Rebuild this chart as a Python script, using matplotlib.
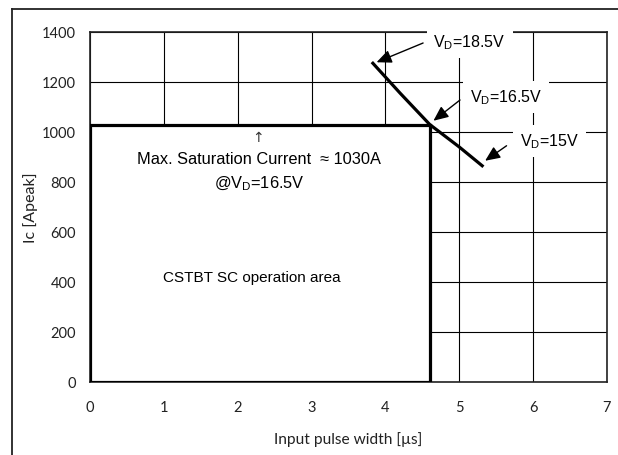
import matplotlib
matplotlib.use("Agg")
import matplotlib.pyplot as plt
from matplotlib.lines import Line2D

# Data
x_ticks = [0, 1, 2, 3, 4, 5, 6, 7]
y_ticks = [0, 200, 400, 600, 800, 1000, 1200, 1400]
sc_area_x = [0, 0, 4.6, 4.6, 0]
sc_area_y = [0, 1030, 1030, 0, 0]
curve_x = [3.83, 4.2, 4.6, 5.0, 5.31]
curve_y = [1275, 1155, 1030, 940, 865]
labels = ["V$_\\mathregular{D}$=18.5V", "V$_\\mathregular{D}$=16.5V", "V$_\\mathregular{D}$=15V"]
label_xy = [(5.14, 1360), (5.63, 1140), (6.22, 965)]
arrow_tip = [(3.88, 1279), (4.65, 1045), (5.35, 885)]
arrow_tail = [(4.51, 1356), (5.01, 1128), (5.64, 945)]

fig = plt.figure(figsize=(6.18, 4.56), dpi=100)
ax = fig.add_axes([90/618, 1-383/456, (607-90)/618, (383-33)/456])

tick_font = "Lato"
ann_font = "Liberation Sans"

ax.set_xlim(0, 7)
ax.set_ylim(0, 1400)
ax.set_xticks(x_ticks)
ax.set_yticks(y_ticks)
ax.set_xticklabels([str(v) for v in x_ticks], fontfamily=tick_font, fontsize=10.5, color="#222222")
ax.set_yticklabels([str(v) for v in y_ticks], fontfamily=tick_font, fontsize=10.5, color="#222222")
ax.tick_params(length=0, pad=10)
ax.tick_params(axis="x", pad=13)
ax.grid(True, color="black", linewidth=0.8)
ax.set_axisbelow(True)
for s in ax.spines.values():
    s.set_color("#222222")
    s.set_linewidth(1.2)

ax.set_xlabel("Input pulse width [µs]", fontfamily=tick_font, fontsize=11.2, labelpad=12, color="#222222")
ax.set_ylabel("Ic [Apeak]", fontfamily=tick_font, fontsize=11.5, labelpad=3, color="#222222")

ax.fill(sc_area_x, sc_area_y, facecolor="white", edgecolor="none", zorder=2)
ax.plot(sc_area_x, sc_area_y, color="black", linewidth=2.3, solid_joinstyle="miter", zorder=4)
ax.plot(curve_x, curve_y, color="black", linewidth=2.3, zorder=4)

for lab, xy, tip, tail in zip(labels, label_xy, arrow_tip, arrow_tail):
    ax.text(xy[0], xy[1], lab, fontfamily=ann_font, fontsize=11.5, ha="center", va="center",
            bbox=dict(facecolor="white", edgecolor="none", pad=5), zorder=5, clip_on=False)
    ax.annotate("", xy=tip, xytext=tail,
                arrowprops=dict(arrowstyle="-|>,head_length=0.9,head_width=0.4", color="black",
                                linewidth=1.0, shrinkA=0, shrinkB=0), zorder=6)

ax.text(2.28, 982, "↑", fontfamily="DejaVu Sans", fontsize=10, ha="center", va="center",
        color="#333333", zorder=5)
ax.text(2.29, 892, "Max. Saturation Current  ≈ 1030A",
        fontfamily=[ann_font, "DejaVu Sans"], fontsize=11.8, ha="center", va="center", zorder=5)
ax.text(2.29, 796, "@V$_\\mathregular{D}$=16.5V",
        fontfamily=ann_font, fontsize=11.8, ha="center", va="center", zorder=5)
ax.text(2.19, 420, "CSTBT SC operation area", fontfamily=ann_font, fontsize=11,
        ha="center", va="center", zorder=5)

# outer border (left and top)
fig.add_artist(Line2D([12/618, 12/618], [0, 1-9.5/456], transform=fig.transFigure, color="#222222", linewidth=1.3))
fig.add_artist(Line2D([12/618, 1], [1-9.5/456, 1-9.5/456], transform=fig.transFigure, color="#222222", linewidth=1.3))

fig.savefig("out.png", dpi=100)
